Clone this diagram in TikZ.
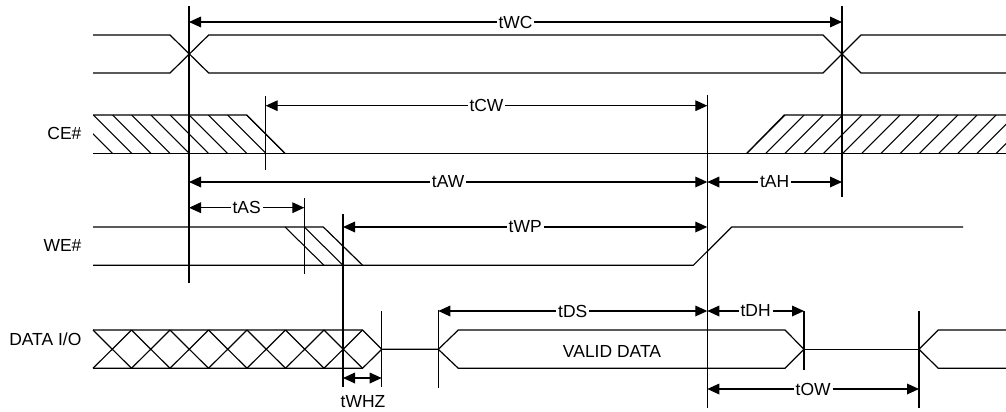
\documentclass[tikz,border=0pt]{standalone}
\usepackage{fontspec}
\setmainfont{Liberation Sans}
\usetikzlibrary{arrows.meta}

\tikzset{
  dim/.style={{Triangle[length=9pt,width=8pt]}-{Triangle[length=9pt,width=8pt]}},
  txt/.style={font=\fontsize{13.1}{15}\selectfont},
  lbl/.style={txt, fill=white, inner sep=1.5pt},
  signame/.style={txt, anchor=east, inner sep=0pt},
  hatch/.style={line width=0.8pt},
}

\begin{document}
\begin{tikzpicture}[x=0.75pt, y=-0.75pt, line width=0.9pt]
\path[use as bounding box] (0,0) rectangle (1006,411);

% signal names
\node[signame] (ce) at (82,133) {CE\#};
\node[signame] (we) at (82,245) {WE\#};
\node[signame] (dio) at (82,339) {DATA I/O};

% address
\draw (93,35) -- (170,35) -- (208.7,73) -- (823,73) -- (861,35) -- (1006,35);
\draw (93,73) -- (170,73) -- (208.7,35) -- (823,35) -- (861,73) -- (1006,73);

% CE#
\draw (93,153.3) -- (1006,153.3);
\draw (93,115) -- (246.7,115) -- (285,153.3);
\draw (746.7,153.3) -- (784.3,115) -- (1006,115);
\begin{scope}
\clip (93,115) -- (246.7,115) -- (285,153.3) -- (93,153.3) -- cycle;
\foreach \i in {0,...,9}
  \draw[hatch] ({246.7-19.17*\i},115) -- ++(38.3,38.3);
\end{scope}
\begin{scope}
\clip (746.7,153.3) -- (784.3,115) -- (1006,115) -- (1006,153.3) -- cycle;
\foreach \i in {0,...,14}
  \draw[hatch] ({746.7+19.2*\i},153.3) -- ++(38.3,-38.3);
\end{scope}

% WE#
\draw (93,227) -- (323.3,227) -- (362.7,265.3);
\draw[hatch] (285,227) -- (324,265.3);
\draw[hatch] (304.3,227) -- (343,265.3);
\draw (93,265.3) -- (693.3,265.3) -- (731.7,227) -- (963,227);

% DATA I/O
\draw (93,330) -- (362.5,330) -- (381.7,349.3) -- (438.3,349.3);
\draw (93,368.3) -- (362.5,368.3) -- (381.7,349.3);
\foreach \i in {0,...,6} {
  \draw ({93+38.5*\i},330) -- ++(38.5,38.3);
  \draw ({93+38.5*\i},368.3) -- ++(38.5,-38.3);
}
\draw (438.3,349.3) -- (458.3,330) -- (785,330) -- (804,349.3)
  -- (785,368.3) -- (458.3,368.3) -- cycle;
\node[txt] (valid) at (612,351) {VALID DATA};
\draw (804,349.3) -- (919,349.3);
\draw (1006,330) -- (938.3,330) -- (919,349.3) -- (938.3,368.3) -- (1006,368.3);

% reference edges
\coordinate (addrT) at (189,6);     \coordinate (addrB) at (189,283);
\coordinate (cefT) at (265.7,96);   \coordinate (cefB) at (265.7,170);
\coordinate (asT) at (304.3,198);   \coordinate (asB) at (304.3,274);
\coordinate (wefT) at (343,214);    \coordinate (wefB) at (343,387);
\coordinate (hzT) at (381.7,311);   \coordinate (hzB) at (381.7,387);
\coordinate (dsT) at (438.3,310);   \coordinate (dsB) at (438.3,388);
\coordinate (werT) at (707.3,95);   \coordinate (werB) at (707.3,408);
\coordinate (dhT) at (804,311);     \coordinate (dhB) at (804,370);
\coordinate (wcT) at (842,6);       \coordinate (wcB) at (842,197);
\coordinate (owT) at (919,311);     \coordinate (owB) at (919,408);
\foreach \e in {addr,cef,as,wef,hz,ds,wer,dh,wc,ow}
  \draw (\e T) -- (\e B);

% timing arrows
\coordinate (wc1) at (189,22);    \coordinate (wc2) at (842,22);
\coordinate (cw1) at (265.7,105.7); \coordinate (cw2) at (707.3,105.7);
\coordinate (aw1) at (189,182);   \coordinate (aw2) at (707.3,182);
\coordinate (ah2) at (842,182);
\coordinate (as1) at (189,207.7); \coordinate (as2) at (304.3,207.7);
\coordinate (wp1) at (343,227);   \coordinate (wp2) at (707.3,227);
\coordinate (ds1) at (438.3,311); \coordinate (ds2) at (707.3,311);
\coordinate (dh2) at (804,311);
\coordinate (hz1) at (343,378);   \coordinate (hz2) at (381.7,378);
\coordinate (ow1) at (707.3,389); \coordinate (ow2) at (919,389);

\draw[dim] (wc1) -- node[lbl] (twc) {tWC} (wc2);
\draw[dim] (cw1) -- node[lbl] (tcw) {tCW} (cw2);
\draw[dim] (aw1) -- node[lbl] (taw) {tAW} (aw2);
\draw[dim] (aw2) -- node[lbl] (tah) {tAH} (ah2);
\draw[dim] (as1) -- node[lbl] (tas) {tAS} (as2);
\draw[dim] (wp1) -- node[lbl] (twp) {tWP} (wp2);
\draw[dim] (ds1) -- node[lbl] (tds) {tDS} (ds2);
\draw[dim] (ds2) -- node[lbl] (tdh) {tDH} (dh2);
\draw[dim] (hz1) -- (hz2);
\node[txt] (twhz) at (363,402) {tWHZ};
\draw[dim] (ow1) -- node[lbl] (tow) {tOW} (ow2);
\end{tikzpicture}
\end{document}
